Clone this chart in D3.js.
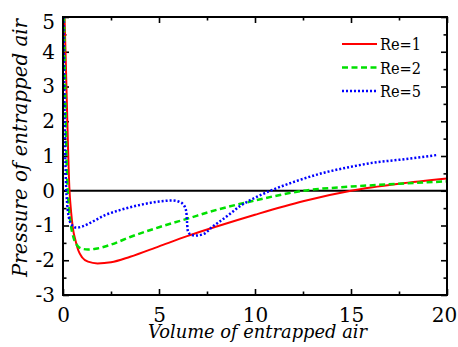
<!DOCTYPE html>
<html>
<head>
<meta charset="utf-8">
<script src="https://cdn.jsdelivr.net/npm/d3@7"></script>
<style>
  body { margin: 0; background: #fff; }
</style>
</head>
<body>
<script>
// valeurs
var re1X = [0.08, 0.15, 0.22, 0.33, 0.42, 0.52, 0.66, 0.8, 1.0, 1.3, 1.8, 2.5, 3.5, 5, 6.5, 8, 10, 12.5, 15, 17.5, 20];
var re1Y = [5, 3.6, 2.1, 0.1, -0.6, -1.1, -1.45, -1.72, -1.92, -2.04, -2.09, -2.06, -1.9, -1.6, -1.3, -1.03, -0.69, -0.3, 0, 0.2, 0.35];

var re2X = [0.05, 0.1, 0.15, 0.2, 0.28, 0.4, 0.55, 0.75, 1.0, 1.3, 1.7, 2.5, 3.5, 5, 6.5, 8, 10, 12.5, 15, 17.5, 20];
var re2Y = [5, 3.3, 1.8, 0.6, -0.3, -0.95, -1.35, -1.58, -1.67, -1.69, -1.67, -1.55, -1.33, -1.05, -0.8, -0.55, -0.28, 0, 0.12, 0.2, 0.27];

var re5X = [0.02, 0.06, 0.1, 0.15, 0.22, 0.3, 0.45, 0.7, 1.0, 1.5, 2.2, 3, 4, 5, 5.7, 6.1, 6.3, 6.42, 6.46, 6.5, 6.6, 6.9, 7.3, 7.8, 8.5, 9.2, 10, 10.8, 12, 13.6, 15, 16.2, 17.5, 19.5];
var re5Y = [5, 3.2, 1.5, 0.3, -0.4, -0.75, -0.98, -1.06, -1.03, -0.9, -0.7, -0.55, -0.41, -0.31, -0.28, -0.33, -0.42, -0.6, -0.9, -1.15, -1.24, -1.29, -1.25, -1.03, -0.75, -0.45, -0.2, 0, 0.25, 0.52, 0.69, 0.81, 0.89, 1.03];

var xMajor = [0, 5, 10, 15, 20];
var xMinor = [2.5, 7.5, 12.5, 17.5];
var yMajor = [-3, -2, -1, 0, 1, 2, 3, 4, 5];
var yMinor = [-2.5, -1.5, -0.5, 0.5, 1.5, 2.5, 3.5, 4.5];

var series = [
  { name: "Re=1", xs: re1X, ys: re1Y, color: "#ff0000", width: 2, dash: null },
  { name: "Re=2", xs: re2X, ys: re2Y, color: "#00e000", width: 2.5, dash: "6,3.5" },
  { name: "Re=5", xs: re5X, ys: re5Y, color: "#0000ff", width: 2.5, dash: "2,2" }
];

var W = 458, H = 347;
var pLeft = 63, pRight = 447, pTop = 17, pBottom = 295;
// seule police a empattements qui sort vraiment au rendu
var serif = "DejaVu Serif";

var svg = d3.select("body").append("svg")
    .attr("width", W)
    .attr("height", H);

var x = d3.scaleLinear().domain([0, 20]).range([pLeft, pRight]);
var y = d3.scaleLinear().domain([-3, 5]).range([pBottom, pTop]);

svg.append("clipPath").attr("id", "clip")
  .append("rect")
    .attr("x", pLeft).attr("y", pTop)
    .attr("width", pRight - pLeft).attr("height", pBottom - pTop);

var fmt = function(d) { return String(d); };

function styleAxis(g) {
  g.attr("font-family", serif).attr("font-size", 20);
  g.select(".domain").remove();
  g.selectAll(".tick line").attr("stroke", "#000").attr("stroke-width", 1.6);
  g.selectAll(".tick text").attr("fill", "#000");
}

// axes
var xAx = svg.append("g")
    .attr("transform", "translate(0," + pBottom + ")")
    .call(d3.axisBottom(x).tickValues(xMajor).tickSize(-6).tickPadding(12.5).tickFormat(fmt))
    .call(styleAxis);
xAx.selectAll(".tick text").filter(function(d) { return d === 20; }).attr("x", -3);
svg.append("g")
    .attr("transform", "translate(0," + pBottom + ")")
    .call(d3.axisBottom(x).tickValues(xMinor).tickSize(-3.5).tickFormat(""))
    .call(styleAxis);
svg.append("g")
    .attr("transform", "translate(0," + pTop + ")")
    .call(d3.axisTop(x).tickValues(xMajor).tickSize(-6).tickFormat(""))
    .call(styleAxis);
svg.append("g")
    .attr("transform", "translate(0," + pTop + ")")
    .call(d3.axisTop(x).tickValues(xMinor).tickSize(-3.5).tickFormat(""))
    .call(styleAxis);

var yAx = svg.append("g")
    .attr("transform", "translate(" + pLeft + ",0)")
    .call(d3.axisLeft(y).tickValues(yMajor).tickSize(-6).tickPadding(8).tickFormat(fmt))
    .call(styleAxis);
// le 5 du haut est un peu plus bas sur l'original
yAx.selectAll(".tick text").filter(function(d) { return d === 5; }).attr("y", 5);
svg.append("g")
    .attr("transform", "translate(" + pLeft + ",0)")
    .call(d3.axisLeft(y).tickValues(yMinor).tickSize(-3.5).tickFormat(""))
    .call(styleAxis);
svg.append("g")
    .attr("transform", "translate(" + pRight + ",0)")
    .call(d3.axisRight(y).tickValues(yMajor).tickSize(-6).tickFormat(""))
    .call(styleAxis);
svg.append("g")
    .attr("transform", "translate(" + pRight + ",0)")
    .call(d3.axisRight(y).tickValues(yMinor).tickSize(-3.5).tickFormat(""))
    .call(styleAxis);

// ligne du zero
svg.append("line")
    .attr("x1", x(0)).attr("x2", x(20))
    .attr("y1", y(0)).attr("y2", y(0))
    .attr("stroke", "#000").attr("stroke-width", 2);

// courbes
var line = d3.line()
    .x(function(d) { return x(d[0]); })
    .y(function(d) { return y(d[1]); })
    .curve(d3.curveMonotoneX);

series.forEach(function(s) {
  var pts = s.xs.map(function(v, i) { return [v, s.ys[i]]; });
  svg.append("path")
      .attr("clip-path", "url(#clip)")
      .attr("d", line(pts))
      .attr("fill", "none")
      .attr("stroke", s.color)
      .attr("stroke-width", s.width)
      .attr("stroke-dasharray", s.dash);
});

// cadre
svg.append("rect")
    .attr("x", pLeft).attr("y", pTop)
    .attr("width", pRight - pLeft).attr("height", pBottom - pTop)
    .attr("fill", "none").attr("stroke", "#000").attr("stroke-width", 2);

// legende
series.forEach(function(s, i) {
  var yy = 50 + i * 23.5;
  svg.append("line")
      .attr("x1", 342).attr("x2", 377)
      .attr("y1", yy - 6).attr("y2", yy - 6)
      .attr("stroke", s.color)
      .attr("stroke-width", s.width)
      .attr("stroke-dasharray", s.dash);
  svg.append("text")
      .attr("x", 380).attr("y", yy)
      .attr("font-family", serif)
      .attr("font-size", 16)
      .attr("textLength", 41)
      .attr("lengthAdjust", "spacingAndGlyphs")
      .text(s.name);
});

// titres
svg.append("text")
    .attr("x", 148).attr("y", 338)
    .attr("font-family", serif)
    .attr("font-size", 19)
    .attr("font-style", "italic")
    .attr("textLength", 219)
    .attr("lengthAdjust", "spacingAndGlyphs")
    .text("Volume of entrapped air");
svg.append("text")
    .attr("transform", "translate(27,277) rotate(-90)")
    .attr("font-family", serif)
    .attr("font-size", 20)
    .attr("font-style", "italic")
    .attr("textLength", 258)
    .attr("lengthAdjust", "spacingAndGlyphs")
    .text("Pressure of entrapped air");
</script>
</body>
</html>
